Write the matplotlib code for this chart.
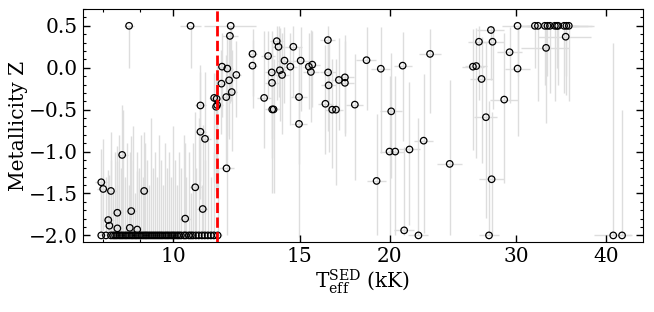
import matplotlib
matplotlib.use("Agg")
import matplotlib.pyplot as plt
from matplotlib.ticker import FixedLocator, FixedFormatter, LogLocator, NullFormatter, MultipleLocator

plt.rcParams['font.family'] = ['DejaVu Serif']
plt.rcParams['mathtext.fontset'] = 'dejavuserif'

# stars with a fitted metallicity (Teff in kK, Z, lower/upper error in Z, Teff error)
teff = [8.69, 10.58, 12.03, 12.00, 12.9, 12.9, 11.7, 11.9, 12.25, 11.97,
        11.68, 12.07, 11.86, 11.41, 11.50, 11.52, 11.48, 10.92, 13.39, 13.56,
        13.94, 14.02, 13.72, 13.73, 13.74, 13.80, 14.08, 14.18, 14.29, 14.7,
        14.56, 14.97, 14.97, 15.05, 15.45, 15.62, 15.55, 16.42, 16.43, 16.46,
        16.29, 16.65, 16.85, 17.01, 17.34, 17.34, 17.9, 18.58, 19.45, 20.11,
        20.86, 22.77, 11.87, 19.19, 20.0, 20.37, 21.32, 22.31, 20.96, 27.67,
        26.63, 27.81, 29.37, 26.12, 26.4, 26.85, 30.13, 28.87, 27.23, 30.13,
        31.85, 32.16, 32.88, 33.16, 33.42, 33.95, 34.17, 34.31, 34.97, 35.23,
        35.5, 35.15, 33.01, 24.25, 27.73,
        10.92, 11.08, 8.5, 7.95, 8.0, 8.2, 9.12, 10.74, 8.37, 8.75,
        11.0, 8.13, 8.16, 8.37, 8.71, 8.92, 10.4]
metal = [0.50, 0.50, 0.50, 0.38, 0.165, 0.025, 0.013, -0.01, -0.086, -0.15,
         -0.19, -0.29, -0.35, -0.36, -0.37, -0.445, -0.465, -0.45, -0.36, 0.14,
         0.317, 0.25, -0.056, -0.18, -0.497, -0.497, -0.03, -0.086, 0.085, 0.25,
         0.013, -0.35, -0.67, 0.085, 0.013, 0.037, -0.05, 0.33, -0.056, -0.21,
         -0.43, -0.50, -0.50, -0.146, -0.115, -0.18, -0.44, 0.09, -0.012, -0.52,
         0.025, 0.165, -1.20, -1.35, -1.0, -1.0, -0.975, -0.87, -1.94, 0.45,
         0.31, 0.31, 0.185, 0.013, 0.02, -0.134, -0.01, -0.38, -0.59, 0.50,
         0.50, 0.50, 0.50, 0.50, 0.50, 0.50, 0.50, 0.50, 0.50, 0.50,
         0.50, 0.37, 0.237, -1.147, -1.33,
         -0.764, -0.848, -1.04, -1.366, -1.446, -1.47, -1.47, -1.426, -1.73, -1.71,
         -1.685, -1.817, -1.884, -1.916, -1.91, -1.93, -1.80]
metal_lo = [0.50, 0.50, 0.90, 0.80, 0.50, 0.50, 0.60, 0.80, 0.50, 0.70,
            0.60, 0.70, 0.80, 1.00, 1.00, 1.00, 1.00, 0.90, 0.60, 0.50,
            0.70, 0.60, 0.80, 0.90, 1.00, 1.00, 0.60, 0.70, 0.50, 0.60,
            0.70, 0.80, 1.35, 0.60, 0.50, 0.50, 0.60, 0.60, 0.70, 0.80,
            0.60, 0.70, 0.90, 0.60, 0.70, 0.60, 0.90, 0.60, 1.00, 0.80,
            0.90, 0.70, 0.80, 0.65, 1.00, 1.00, 0.90, 1.10, 0.06, 0.60,
            0.70, 0.80, 0.60, 1.00, 1.10, 1.00, 0.80, 1.00, 1.20, 0.60,
            0.50, 0.90, 0.70, 0.60, 0.80, 0.90, 0.50, 0.70, 0.80, 0.60,
            0.90, 0.70, 0.90, 0.85, 0.67,
            0.80, 0.90, 0.90, 0.60, 0.50, 0.50, 0.50, 0.55, 0.27, 0.29,
            0.31, 0.18, 0.12, 0.08, 0.09, 0.07, 0.20]
metal_hi = [0.00, 0.00, 0.00, 0.12, 0.30, 0.30, 0.40, 0.40, 0.40, 0.50,
            0.40, 0.50, 0.50, 0.30, 0.40, 0.40, 0.40, 0.40, 0.80, 0.30,
            0.18, 0.25, 0.50, 0.50, 0.60, 0.60, 0.50, 0.50, 0.40, 0.25,
            0.40, 0.60, 0.70, 0.40, 0.40, 0.40, 0.50, 0.17, 0.40, 0.50,
            0.70, 0.60, 0.60, 0.50, 0.50, 0.50, 0.60, 0.40, 0.50, 0.70,
            0.40, 0.30, 0.80, 0.80, 0.90, 0.90, 0.80, 0.80, 1.00, 0.05,
            0.19, 0.19, 0.30, 0.45, 0.45, 0.50, 0.50, 0.80, 0.90, 0.00,
            0.00, 0.00, 0.00, 0.00, 0.00, 0.00, 0.00, 0.00, 0.00, 0.00,
            0.00, 0.13, 0.26, 1.00, 0.80,
            0.80, 0.80, 0.60, 0.40, 0.60, 0.70, 0.70, 0.90, 0.80, 0.90,
            1.00, 0.60, 0.60, 0.80, 0.90, 0.70, 0.90]
teff_err = [0.15, 0.35, 1.00, 0.30, 0.20, 0.20, 0.20, 0.20, 0.20, 0.20,
            0.20, 0.20, 0.20, 0.20, 0.20, 0.20, 0.20, 0.20, 0.30, 0.30,
            0.30, 0.30, 0.30, 0.30, 0.30, 0.30, 0.30, 0.30, 0.30, 0.40,
            0.30, 0.40, 0.40, 0.40, 0.30, 0.40, 0.40, 0.40, 0.40, 0.40,
            0.40, 0.40, 0.40, 0.40, 0.50, 0.50, 0.50, 0.60, 0.60, 0.70,
            0.60, 0.80, 0.30, 0.60, 0.60, 0.60, 0.70, 0.70, 0.70, 1.20,
            0.90, 1.00, 1.20, 0.90, 0.90, 1.00, 1.20, 1.30, 1.00, 1.50,
            1.80, 2.00, 1.80, 2.20, 2.00, 2.50, 2.20, 2.40, 2.80, 3.00,
            3.00, 3.00, 2.50, 1.00, 1.10,
            0.20, 0.20, 0.15, 0.15, 0.15, 0.15, 0.15, 0.20, 0.15, 0.15,
            0.20, 0.15, 0.15, 0.15, 0.15, 0.15, 0.20]

# stars pinned at the lower metallicity bound (Z = -2)
teff_floor = [7.95, 8.07, 8.20, 8.26, 8.31, 8.36, 8.42, 8.47, 8.52, 8.58,
              8.63, 8.69, 8.75, 8.80, 8.86, 8.91, 8.97, 9.03, 9.09, 9.15,
              9.20, 9.26, 9.32, 9.38, 9.44, 9.50, 9.56, 9.62, 9.68, 9.75,
              9.81, 9.87, 9.94, 10.00, 10.06, 10.13, 10.19, 10.26, 10.36, 10.42,
              10.52, 10.59, 10.66, 10.76, 10.86, 10.97, 11.07, 11.18, 11.29, 11.40,
              11.54, 21.94, 27.50, 40.93, 42.10]
floor_hi = [0.6, 0.7, 0.9, 0.5, 1.0, 0.6, 1.2, 0.8, 1.5, 0.7,
            1.1, 0.6, 0.9, 1.3, 0.5, 1.0, 0.8, 1.2, 0.7, 1.1,
            0.9, 0.6, 1.4, 0.8, 1.0, 0.7, 1.2, 0.9, 0.6, 1.1,
            0.8, 1.0, 0.7, 1.3, 0.9, 0.6, 1.0, 0.8, 1.2, 0.7,
            1.0, 0.5, 1.1, 0.8, 1.4, 0.6, 0.9, 1.2, 0.7, 1.0,
            0.8, 1.4, 1.6, 2.3, 1.5]
floor_terr = [0.12, 0.12, 0.12, 0.12, 0.12, 0.12, 0.12, 0.12, 0.12, 0.12,
              0.12, 0.12, 0.12, 0.12, 0.12, 0.12, 0.12, 0.12, 0.12, 0.12,
              0.15, 0.15, 0.15, 0.15, 0.15, 0.15, 0.15, 0.15, 0.15, 0.15,
              0.15, 0.15, 0.15, 0.15, 0.15, 0.15, 0.15, 0.15, 0.15, 0.15,
              0.15, 0.15, 0.15, 0.15, 0.15, 0.15, 0.15, 0.15, 0.15, 0.15,
              0.15, 0.7, 0.9, 2.5, 1.2]
floor_z = [-2.0] * len(teff_floor)

t_cut = 11.5

fig = plt.figure(figsize=(6.54, 3.12), dpi=100)
ax = fig.add_axes([0.127, 0.224, 0.856, 0.747])

err_col = '#dddddd'
ax.errorbar(teff, metal, xerr=teff_err, yerr=[metal_lo, metal_hi], fmt='none',
            ecolor=err_col, elinewidth=1.0, capsize=0, zorder=1)
ax.errorbar(teff_floor, floor_z, xerr=floor_terr, yerr=[[0.0] * len(floor_hi), floor_hi],
            fmt='none', ecolor=err_col, elinewidth=1.0, capsize=0, zorder=1)

ax.scatter(teff, metal, s=22, facecolors='none', edgecolors='black', linewidths=0.9, zorder=3)
ax.scatter(teff_floor, floor_z, s=22, facecolors='none', edgecolors='black', linewidths=0.9, zorder=3)

ax.axvline(t_cut, color='red', ls='--', lw=2, zorder=4)

ax.set_xscale('log')
ax.set_xlim(7.5, 45)
ax.set_ylim(-2.08, 0.70)
ax.xaxis.set_major_locator(FixedLocator([10, 15, 20, 30, 40]))
ax.xaxis.set_major_formatter(FixedFormatter(['10', '15', '20', '30', '40']))
ax.xaxis.set_minor_locator(LogLocator(subs=(2, 3, 4, 5, 6, 7, 8, 9)))
ax.xaxis.set_minor_formatter(NullFormatter())
ax.yaxis.set_major_locator(MultipleLocator(0.5))
ax.yaxis.set_minor_locator(MultipleLocator(0.1))

ax.tick_params(which='both', direction='in', top=True, right=True, labelsize=14.5)
ax.tick_params(which='major', length=5, width=1)
ax.tick_params(which='minor', length=2.5, width=0.8)

ax.set_xlabel(r'$\mathrm{T}_{\rm eff}^{\rm SED}$ (kK)', fontsize=14.5, labelpad=1)
ax.set_ylabel('Metallicity Z', fontsize=14.5, labelpad=1)

fig.savefig('out.png', dpi=100)
